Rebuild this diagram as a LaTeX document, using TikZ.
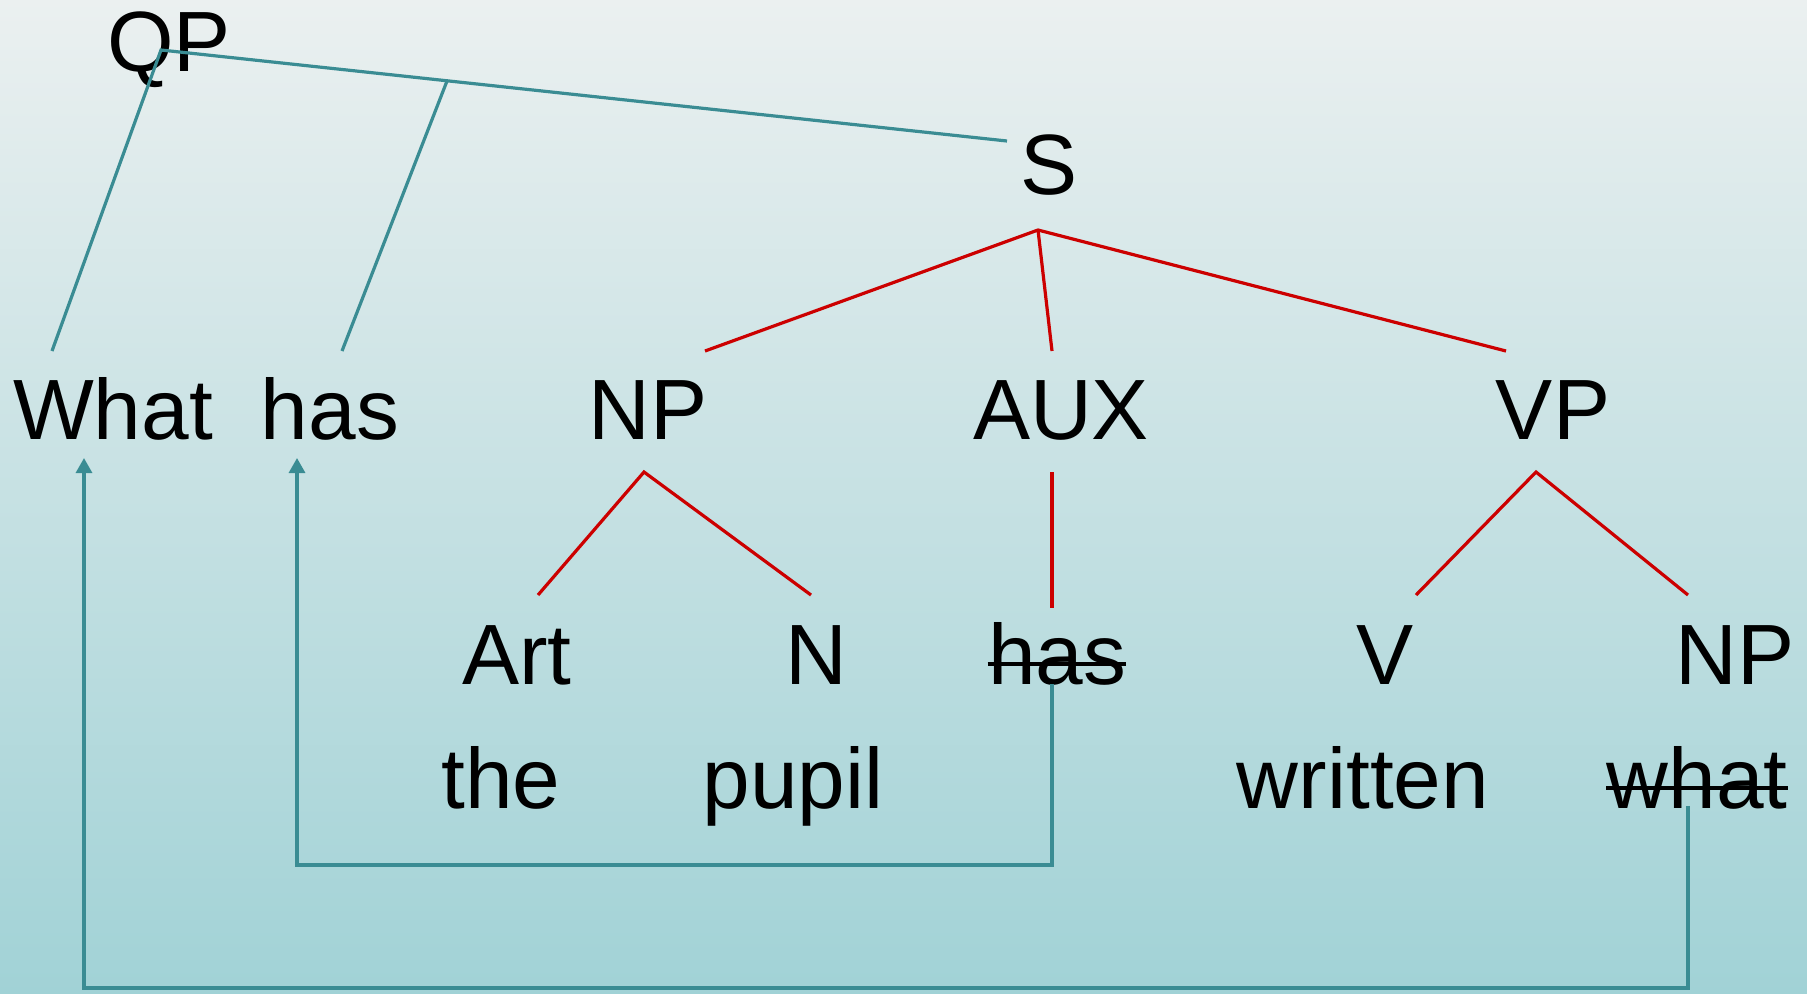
\documentclass[tikz,border=0pt]{standalone}
\usepackage{fontspec}
\setmainfont{Liberation Sans}
\usetikzlibrary{arrows.meta}
\definecolor{tealline}{HTML}{3A8C93}
\definecolor{redline}{HTML}{CC0000}
\definecolor{bgtop}{HTML}{EBF0F0}
\definecolor{bgbot}{HTML}{A1D2D6}
\begin{document}
\begin{tikzpicture}[x=0.5pt,y=-0.5pt,
  lbl/.style={anchor=base,inner sep=0pt,font=\fontsize{42.8pt}{50pt}\selectfont},
  tline/.style={draw=tealline,line width=1.6pt},
  rline/.style={draw=redline,line width=1.6pt},
  strike/.style={draw=black,line width=2pt},
  arr/.style={tline,-{Triangle[width=8pt,length=7.5pt]}}]
\shade[top color=bgtop,bottom color=bgbot] (0,0) rectangle (1807,993);
\useasboundingbox (0,0) rectangle (1807,993);

% labels
\node[lbl] (QP) at (169,71) {QP};
\node[lbl] (S) at (1049,194) {S};
\node[lbl] (What) at (113,439) {What};
\node[lbl] (hasA) at (330,439) {has};
\node[lbl] (NPa) at (648,439) {NP};
\node[lbl] (AUX) at (1061,439) {AUX};
\node[lbl] (VP) at (1553,439) {VP};
\node[lbl] (Art) at (517,684) {Art};
\node[lbl] (N) at (816,684) {N};
\node[lbl] (hasB) at (1057,684) {has};
\node[lbl] (V) at (1385,684) {V};
\node[lbl] (NPb) at (1735,684) {NP};
\node[lbl] (the) at (501,808) {the};
\node[lbl] (pupil) at (793,808) {pupil};
\node[lbl] (written) at (1363,808) {written};
\node[lbl] (what) at (1697,808) {what};

% strikethroughs
\draw[strike] ([yshift=10pt]hasB.base west) -- ([yshift=10pt]hasB.base east);
\draw[strike] ([yshift=10pt]what.base west) -- ([yshift=10pt]what.base east);

% connector end points
\coordinate (qp-root) at (161,50);
\coordinate (qp-branch) at (447,81);
\coordinate (s-in) at (1007,141);
\coordinate (what-top) at (52,351);
\coordinate (hasA-top) at (342,351);
\coordinate (s-root) at (1038,230);
\coordinate (npa-top) at (705,351);
\coordinate (aux-top) at (1052,351);
\coordinate (vp-top) at (1506,351);
\coordinate (npa-root) at (644,472);
\coordinate (art-top) at (538,595);
\coordinate (n-top) at (811,595);
\coordinate (aux-root) at (1052,472);
\coordinate (hasB-top) at (1052,608);
\coordinate (vp-root) at (1536,472);
\coordinate (v-top) at (1416,595);
\coordinate (npb-top) at (1688,595);
\coordinate (hasB-foot) at (1052,684);
\coordinate (hasB-corner) at (1052,865);
\coordinate (hasA-arrow) at (297,458);
\coordinate (what-foot) at (1688,806);
\coordinate (what-corner) at (1688,988);
\coordinate (What-arrow) at (84,458);

% teal QP tree
\draw[tline] (what-top) -- (qp-root) -- (s-in);
\draw[tline] (hasA-top) -- (qp-branch);

% red S tree
\draw[rline] (npa-top) -- (s-root) -- (vp-top);
\draw[rline] (s-root) -- (aux-top);
\draw[rline] (art-top) -- (npa-root) -- (n-top);
\draw[rline] (aux-root) -- (hasB-top);
\draw[rline] (v-top) -- (vp-root) -- (npb-top);

% movement arrows
\draw[arr] (hasB-foot) -- (hasB-corner) -| (hasA-arrow);
\draw[tline,line width=2.4pt] (what-corner) -- (What-arrow |- what-corner);
\draw[arr] (what-foot) -- (what-corner) -| (What-arrow);
\end{tikzpicture}
\end{document}
